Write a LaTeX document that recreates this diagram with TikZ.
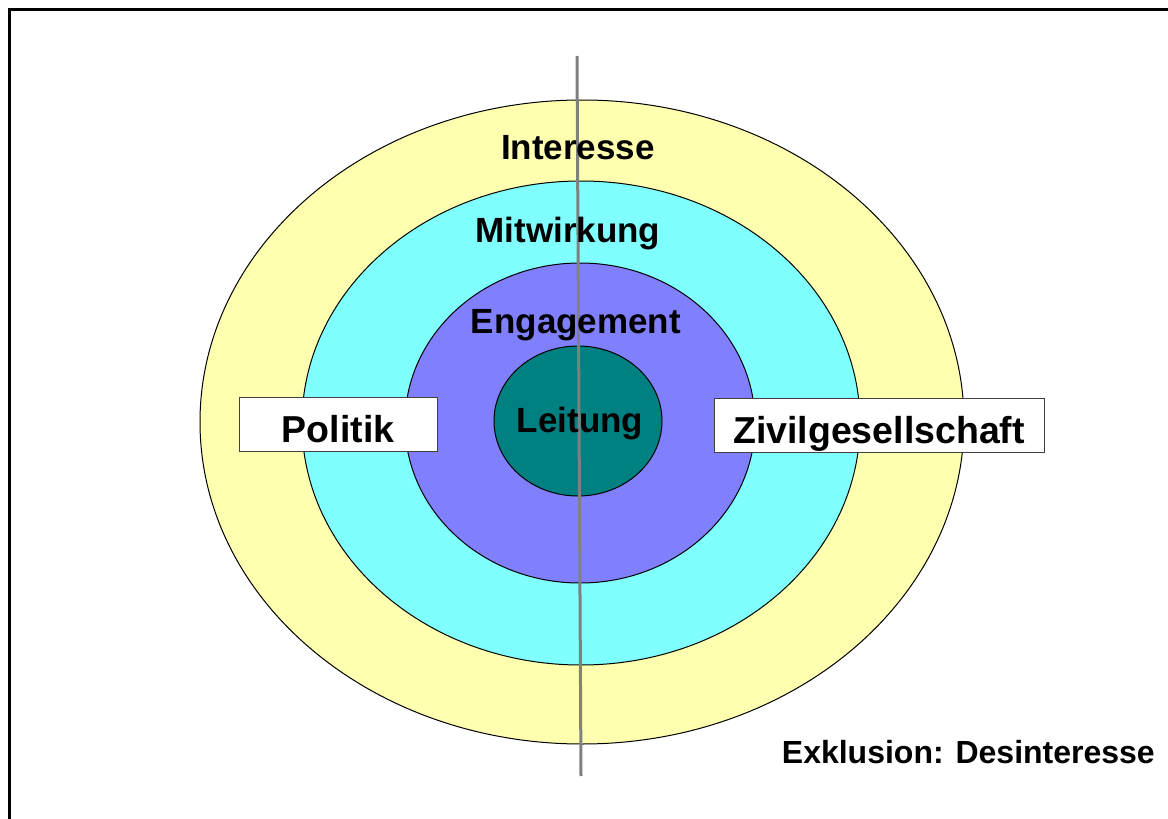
\documentclass[tikz,border=0pt]{standalone}
\usepackage{fontspec}
\setmainfont{Liberation Sans}
\usepackage{tikz}
\usetikzlibrary{shapes.geometric}
\definecolor{ringyellow}{RGB}{255,255,176}
\definecolor{ringcyan}{RGB}{128,255,255}
\definecolor{ringblue}{RGB}{128,128,255}
\definecolor{ringteal}{RGB}{0,128,128}
\tikzstyle{ring}=[ellipse,draw=black,line width=1pt,inner sep=0pt]
\tikzstyle{ringlabel}=[font=\fontsize{35}{40}\selectfont\bfseries,inner sep=0pt,anchor=base]
\tikzstyle{sidebox}=[draw=black!75,fill=white,line width=1pt,inner sep=0pt,text height=36pt,text depth=0pt,font=\fontsize{37.5}{42}\selectfont\bfseries]
\tikzstyle{axis}=[draw=black!50,line width=3pt]

\begin{document}
\begin{tikzpicture}[x=1pt,y=-1pt]
    \useasboundingbox (0,0) rectangle (1168,819);
    \draw[line width=3pt] (9,9) rectangle (1180,830);
    % First we draw the rings
    \foreach \name/\pos/\w/\h/\col in {outer/{(582,422)}/764/644/ringyellow, middle/{(581,423)}/558/484/ringcyan, inner/{(580,423)}/350/320/ringblue, core/{(578,421)}/168/150/ringteal}
        \node[ring,fill=\col,minimum width=\w pt,minimum height=\h pt] (\name) at \pos {};

    % the dividing line
    \coordinate (axtop) at (577,56);
    \coordinate (axbot) at (581,776);
    \path[axis] (axtop) -- (axbot);

    % Labels of the rings
    \foreach \pos/\name/\txt in {{(578,159)}/interesse/Interesse, {(568,242)}/mitwirkung/Mitwirkung, {(576,333)}/engagement/Engagement, {(580,432)}/leitung/Leitung}
        \node[ringlabel] (\name) at \pos {\txt};

    % the two sides
    \node[sidebox,minimum width=198pt,minimum height=54pt] (politik) at (338,424) {Politik};
    \node[sidebox,minimum width=330pt,minimum height=54pt] (zivil) at (879,425) {Zivilgesellschaft};

    \node[ringlabel,font=\fontsize{32}{36}\selectfont\bfseries,anchor=base east] (exklusion) at (1155,763) {Exklusion: Desinteresse};
\end{tikzpicture}
\end{document}
